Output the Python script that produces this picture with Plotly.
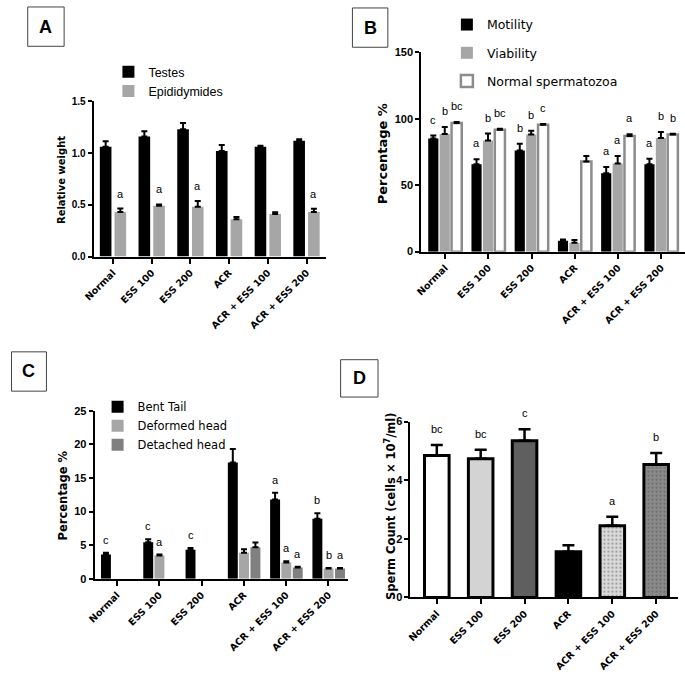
import plotly.graph_objects as go

groups = ["Normal", "ESS 100", "ESS 200", "ACR", "ACR + ESS 100", "ACR + ESS 200"]

# ---- Panel A : relative organ weight ----
testes = [1.06, 1.16, 1.23, 1.02, 1.06, 1.12]
testes_err = [0.055, 0.05, 0.06, 0.057, 0.01, 0.014]
epid = [0.43, 0.49, 0.48, 0.36, 0.41, 0.43]
epid_err = [0.034, 0.013, 0.057, 0.022, 0.019, 0.032]
testes_letters = ["", "", "", "", "", ""]
epid_letters = ["a", "a", "a", "", "", "a"]

# ---- Panel B : motility / viability / normal spermatozoa (%) ----
motility = [85.0, 65.7, 76.1, 8.2, 59.0, 65.7]
motility_err = [2.3, 3.7, 5.0, 1.0, 4.7, 4.2]
viability = [88.5, 83.6, 88.0, 6.7, 66.2, 85.5]
viability_err = [5.2, 5.2, 3.0, 2.0, 5.7, 4.5]
normal_sperm = [96.7, 91.7, 95.5, 67.7, 87.0, 88.0]
normal_sperm_err = [0.7, 0.8, 0.5, 4.2, 1.2, 0.6]
motility_letters = ["c", "a", "b", "", "a", "a"]
viability_letters = ["b", "b", "b", "", "a", "b"]
normal_letters = ["bc", "bc", "c", "", "a", "b"]

# ---- Panel C : abnormalities (%) ----
bent_tail = [3.6, 5.45, 4.34, 17.3, 11.8, 8.93]
bent_tail_err = [0.26, 0.45, 0.26, 2.0, 1.0, 0.82]
deformed = [0, 3.47, 0, 3.86, 2.41, 1.54]
deformed_err = [0, 0.13, 0, 0.55, 0.19, 0.06]
detached = [0, 0, 0, 4.68, 1.69, 1.54]
detached_err = [0, 0, 0, 0.72, 0.1, 0.06]
bent_letters = ["c", "c", "c", "", "a", "b"]
deformed_letters = ["", "a", "", "", "a", "b"]
detached_letters = ["", "", "", "", "a", "a"]

# ---- Panel D : sperm count ----
sperm_count = [4.84, 4.73, 5.35, 1.56, 2.45, 4.54]
sperm_count_err = [0.36, 0.31, 0.39, 0.22, 0.3, 0.39]
count_letters = ["bc", "bc", "c", "", "a", "b"]

W, H = 685, 686
TICKFONT_X = dict(family="DejaVu Sans", size=9.5, color="black", weight="bold")
LETTER_FONT = dict(family="Liberation Sans", size=11, color="black")

fig = go.Figure()
annotations = []
shapes = []


def px_x(p):
    return p / W


def px_y(p):
    return 1 - p / H


def add_bars(name, vals, errs, letters, xa, ya, offset, width, color,
             line_color=None, line_width=0, legend=None, group=None,
             err_w=3, err_t=2, lshift=6):
    # zero-height bars (no abnormality observed) are not drawn
    yv = [v if v else None for v in vals]
    ev = [e if v else None for v, e in zip(vals, errs)]
    marker = dict(color=color, line=dict(color=line_color or color, width=line_width))
    fig.add_trace(go.Bar(
        x=groups, y=yv, name=name, xaxis=xa, yaxis=ya,
        offset=offset, width=width, marker=marker,
        error_y=dict(type="data", array=ev, arrayminus=[0] * len(ev), symmetric=False,
                     color="black", thickness=err_t, width=err_w),
        showlegend=legend is not None, legend=legend or "legend",
        legendgroup=group,
    ))
    for i, (v, e, t) in enumerate(zip(vals, errs, letters)):
        if t:
            annotations.append(dict(
                x=i + offset + width / 2, y=v + e, xref=xa, yref=ya,
                text=t, showarrow=False, yanchor="bottom", yshift=lshift,
                font=LETTER_FONT))


# Panel A
add_bars("Testes", testes, testes_err, testes_letters, "x", "y", -0.34, 0.30, "black",
         legend="legend", group="a1", lshift=7)
add_bars("Epididymides", epid, epid_err, epid_letters, "x", "y", 0.04, 0.30, "#a6a6a6",
         legend="legend", group="a2", lshift=7)

# Panel B
add_bars("Motility", motility, motility_err, motility_letters, "x2", "y2", -0.39, 0.235,
         "black", legend="legend2", group="b1", lshift=8)
add_bars("Viability", viability, viability_err, viability_letters, "x2", "y2", -0.125, 0.235,
         "#a6a6a6", legend="legend2", group="b2", lshift=8)
add_bars("Normal spermatozoa", normal_sperm, normal_sperm_err, normal_letters, "x2", "y2",
         0.15, 0.235, "white", line_color="#8c8c8c", line_width=2.5,
         legend="legend2", group="b3", lshift=8)

# Panel C
add_bars("Bent Tail", bent_tail, bent_tail_err, bent_letters, "x3", "y3", -0.38, 0.235,
         "black", legend="legend3", group="c1", lshift=5)
add_bars("Deformed head", deformed, deformed_err, deformed_letters, "x3", "y3", -0.115, 0.235,
         "#a6a6a6", legend="legend3", group="c2", lshift=5)
add_bars("Detached head", detached, detached_err, detached_letters, "x3", "y3", 0.155, 0.235,
         "#808080", legend="legend3", group="c3", lshift=5)

# Panel D
d_colors = ["white", "#d3d3d3", "#5f5f5f", "black", "#dadada", "#8a8a8a"]
d_shapes = ["", "", "", "", ".", "."]
fig.add_trace(go.Bar(
    x=groups, y=sperm_count, xaxis="x4", yaxis="y4", offset=-0.28, width=0.56,
    marker=dict(color=d_colors, line=dict(color="black", width=3),
                pattern=dict(shape=d_shapes, fgcolor="#3a3a3a", size=4, solidity=0.22)),
    error_y=dict(type="data", array=sperm_count_err, arrayminus=[0] * 6, symmetric=False,
                 color="black", thickness=2.5, width=6),
    showlegend=False))
for i, (v, e, t) in enumerate(zip(sperm_count, sperm_count_err, count_letters)):
    if t:
        annotations.append(dict(x=i, y=v + e, xref="x4", yref="y4", text=t, showarrow=False,
                                yanchor="bottom", yshift=8, font=LETTER_FONT))

# Panel label boxes (outline drawn as shapes, letter as text)
for lab, x0, y0, x1, y1 in [("A", 17, 1, 54, 41), ("B", 347, 2, 383, 42),
                            ("C", 0.5, 352, 36, 392), ("D", 335, 360, 373, 398)]:
    shapes.append(dict(type="rect", xref="paper", yref="paper",
                       x0=px_x(x0), x1=px_x(x1), y0=px_y(y1), y1=px_y(y0),
                       line=dict(color="#444444", width=1), fillcolor="white", layer="below"))
    annotations.append(dict(
        x=px_x((x0 + x1) / 2), y=px_y((y0 + y1) / 2), xref="paper", yref="paper", text=lab,
        showarrow=False, xanchor="center", yanchor="middle",
        font=dict(family="Liberation Sans", size=18, color="black", weight="bold")))

# Y-axis titles placed as rotated texts
for txt, cx, cy, size in [("Relative weight", 52, 177, 10),
                          ("Percentage %", 377, 150, 13),
                          ("Percentage %", 53, 498, 11.5),
                          ("Sperm Count (cells × 10<sup>7</sup>/ml)", 385, 509, 11.5)]:
    annotations.append(dict(
        x=px_x(cx), y=px_y(cy), xref="paper", yref="paper", text=txt, showarrow=False,
        textangle=-90, xanchor="center", yanchor="middle",
        font=dict(family="DejaVu Sans", size=size, color="black", weight="bold")))


def xaxis_cfg(domain, rng, anchor):
    return dict(domain=domain, range=rng, anchor=anchor, type="category",
                showline=True, linecolor="black", linewidth=2, ticks="outside",
                ticklen=5, tickwidth=1.5, tickcolor="black", tickangle=-45,
                tickfont=TICKFONT_X, showgrid=False, zeroline=False, fixedrange=True)


def yaxis_cfg(domain, rng, dtick, anchor, tfsize, fmt=None):
    d = dict(domain=domain, range=rng, dtick=dtick, anchor=anchor,
             showline=True, linecolor="black", linewidth=2, ticks="outside",
             ticklen=4, tickwidth=1.5, tickcolor="black",
             tickfont=dict(family="Liberation Sans", size=tfsize, color="black", weight="bold"),
             showgrid=False, zeroline=False, fixedrange=True)
    if fmt:
        d["tickformat"] = fmt
    return d


fig.update_layout(
    width=W, height=H, margin=dict(l=0, r=0, t=0, b=0),
    paper_bgcolor="white", plot_bgcolor="rgba(0,0,0,0)",
    xaxis=xaxis_cfg([px_x(84), px_x(320)], [-0.5, 5.5], "y"),
    yaxis=yaxis_cfg([px_y(255), px_y(97)], [0, 1.5], 0.5, "x", 10, ".1f"),
    xaxis2=xaxis_cfg([px_x(417), 1.0], [-0.55, 5.55], "y2"),
    yaxis2=yaxis_cfg([px_y(250), px_y(47)], [0, 150], 50, "x2", 11),
    xaxis3=xaxis_cfg([px_x(85), px_x(342)], [-0.53, 5.45], "y3"),
    yaxis3=yaxis_cfg([px_y(583), px_y(412)], [0, 25], 5, "x3", 11),
    xaxis4=xaxis_cfg([px_x(406), px_x(678)], [-0.6, 5.5], "y4"),
    yaxis4=yaxis_cfg([px_y(602), px_y(423)], [0, 6], 2, "x4", 11),
    legend=dict(x=px_x(99), y=px_y(52), xanchor="left", yanchor="top",
                bgcolor="rgba(0,0,0,0)", tracegroupgap=0,
                font=dict(family="Liberation Sans", size=12.5, color="black")),
    legend2=dict(x=px_x(443), y=px_y(4), xanchor="left", yanchor="top",
                 bgcolor="rgba(0,0,0,0)", tracegroupgap=9,
                 font=dict(family="DejaVu Sans", size=12.5, color="black")),
    legend3=dict(x=px_x(88), y=px_y(393), xanchor="left", yanchor="top",
                 bgcolor="rgba(0,0,0,0)", tracegroupgap=0,
                 font=dict(family="DejaVu Sans", size=11.5, color="black")),
    annotations=annotations,
    shapes=shapes,
    showlegend=True,
)

fig.write_html("out.html", config={"displayModeBar": False},
               post_script="document.body.style.margin='0px';")
